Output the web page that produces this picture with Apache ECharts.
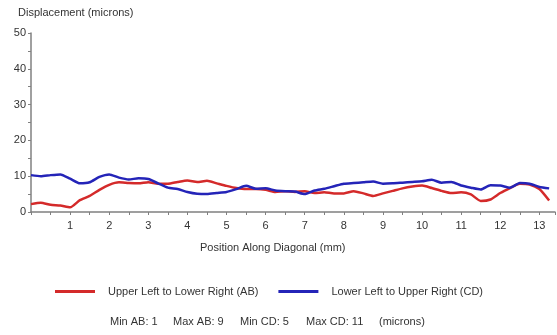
<!DOCTYPE html>
<html>
<head>
<meta charset="utf-8">
<script src="https://cdn.jsdelivr.net/npm/echarts@6/dist/echarts.min.js"></script>
<style>html,body{margin:0;padding:0;background:#fff}#c{width:557px;height:335px}</style>
</head>
<body>
<div id="c"></div>
<script>
const positions = [0,0.25,0.5,0.75,1,1.25,1.5,1.75,2,2.25,2.5,2.75,3,3.25,3.5,3.75,4,4.25,4.5,4.75,5,5.25,5.5,5.75,6,6.25,6.5,6.75,7,7.25,7.5,7.75,8,8.25,8.5,8.75,9,9.25,9.5,9.75,10,10.25,10.5,10.75,11,11.25,11.5,11.75,12,12.25,12.5,12.75,13,13.25];
const abValues = [2.2,2.6,2.0,1.8,1.3,3.3,4.5,6.2,7.6,8.3,8.1,8.0,8.3,7.9,7.9,8.4,8.8,8.4,8.7,8.0,7.3,6.7,6.4,6.4,6.2,5.6,5.8,5.6,5.8,5.3,5.5,5.2,5.2,5.8,5.2,4.5,5.2,5.9,6.6,7.1,7.4,6.7,5.9,5.3,5.5,4.9,3.1,3.5,5.3,6.7,7.9,7.7,6.4,3.2];
const cdValues = [10.3,10.0,10.3,10.5,9.3,8.0,8.3,9.8,10.5,9.6,9.1,9.4,9.2,8.0,6.8,6.4,5.6,5.1,5.0,5.3,5.6,6.4,7.3,6.5,6.6,6.0,5.8,5.7,5.0,6.0,6.5,7.2,7.9,8.1,8.3,8.5,7.9,8.0,8.2,8.4,8.6,9.0,8.2,8.4,7.4,6.8,6.3,7.5,7.4,6.8,8.1,7.9,7.0,6.6];
const seriesNames = ['Upper Left to Lower Right (AB)', 'Lower Left to Upper Right (CD)'];
const statLabels = ['Min AB: 1', 'Max AB: 9', 'Min CD: 5', 'Max CD: 11', '(microns)'];
const yTitle = 'Displacement (microns)';
const xTitle = 'Position Along Diagonal (mm)';

const FONT = '"Liberation Sans", Arial, sans-serif';
const TXT = '#333';
const AX = '#808080';
const RED = '#d42a2a';
const BLUE = '#2424b8';

const chart = echarts.init(document.getElementById('c'), null, {renderer: 'canvas'});
const statX = [110, 173, 240, 306, 379];

chart.setOption({
  animation: false,
  grid: {left: 31, top: 33, right: 2, bottom: 123, containLabel: false},
  xAxis: {
    type: 'value', min: 0, max: 13.4, interval: 1,
    axisLine: {lineStyle: {color: AX, width: 1.5}},
    axisTick: {show: true, length: 3, lineStyle: {color: AX}},
    minorTick: {show: true, splitNumber: 2, length: 3, lineStyle: {color: AX}},
    splitLine: {show: false},
    axisLabel: {color: TXT, fontFamily: FONT, fontSize: 11, margin: 8,
      showMinLabel: false, showMaxLabel: false,
      formatter: v => (v === 0 ? '' : String(v))}
  },
  yAxis: {
    type: 'value', min: 0, max: 50, interval: 10,
    axisLine: {show: true, lineStyle: {color: AX, width: 1.5}},
    axisTick: {show: true, length: 3, lineStyle: {color: AX}},
    minorTick: {show: true, splitNumber: 2, length: 3, lineStyle: {color: AX}},
    splitLine: {show: false},
    axisLabel: {color: TXT, fontFamily: FONT, fontSize: 11, margin: 5}
  },
  legend: {
    left: 50, top: 281, itemWidth: 40, itemHeight: 3, itemGap: 20,
    icon: 'rect',
    textStyle: {color: TXT, fontFamily: FONT, fontSize: 11, padding: [0, 0, 0, 8]},
    data: seriesNames
  },
  series: [
    {name: seriesNames[0], type: 'line', showSymbol: false, smooth: 0.2,
     data: positions.map((p, i) => [p, abValues[i]]),
     itemStyle: {color: RED}, lineStyle: {color: RED, width: 2.5}},
    {name: seriesNames[1], type: 'line', showSymbol: false, smooth: 0.2,
     data: positions.map((p, i) => [p, cdValues[i]]),
     itemStyle: {color: BLUE}, lineStyle: {color: BLUE, width: 2.5}}
  ],
  graphic: [
    {type: 'text', left: 18, top: 7, style: {text: yTitle, fill: TXT, font: '11px ' + FONT}},
    {type: 'text', left: 200, top: 242, style: {text: xTitle, fill: TXT, font: '11px ' + FONT}}
  ].concat(statLabels.map((s, i) => ({
    type: 'text', left: statX[i], top: 316, style: {text: s, fill: TXT, font: '11px ' + FONT}
  })))
});
</script>
</body>
</html>
